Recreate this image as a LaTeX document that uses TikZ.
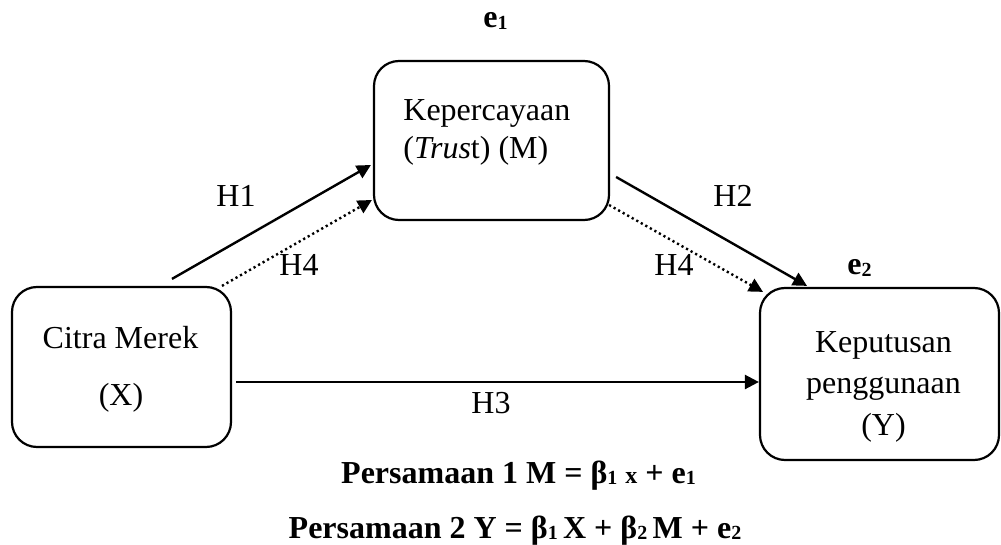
\documentclass[tikz,border=0pt]{standalone}
\usepackage{fontspec}
\setmainfont{Liberation Serif}
\usetikzlibrary{arrows.meta,calc}
\newcommand\sbs[1]{\raisebox{-0.6pt}{\fontsize{10}{10}\selectfont #1}}
\begin{document}
\begin{tikzpicture}[x=0.5pt,y=-0.5pt,
  box/.style={draw, line width=1.1pt, rounded corners=12.5pt, inner sep=0pt},
  lbl/.style={inner sep=0pt, font=\fontsize{16}{19}\selectfont},
  eq/.style={inner sep=0pt, font=\fontsize{16}{19}\selectfont\bfseries},
  arr/.style={line width=1.2pt, -{Triangle[length=7pt,width=7pt]}},
  dotarr/.style={arr, dash pattern=on 1.1pt off 1.5pt}]
\useasboundingbox (0,0) rectangle (1001,545);
% boxes
\node[box, minimum width=109.5pt, minimum height=80pt] (X) at (121.5,367) {};
\node[box, minimum width=117.5pt, minimum height=79.5pt] (M) at (491.5,140.5) {};
\node[box, minimum width=119.5pt, minimum height=86pt] (Y) at (879.5,374) {};
% box texts
\node[lbl, anchor=base] (x1) at (120.5,348) {Citra Merek};
\node[lbl, anchor=base] (x2) at (121,405) {(X)};
\node[lbl, anchor=base west] (m1) at (403,121) {Kepercayaan};
\node[lbl, anchor=base west] (m2) at (403,159) {(\textit{Trus}t) (M)};
\node[lbl, anchor=base] (y1) at (883.5,352) {Keputusan};
\node[lbl, anchor=base] (y2) at (883.5,393) {penggunaan};
\node[lbl, anchor=base] (y3) at (883.5,435) {(Y)};
% error labels
\node[eq, anchor=base] (e1) at (495.5,28) {e\sbs{1}};
\node[eq, anchor=base] (e2) at (859.5,275) {e\sbs{2}};
% connectors
\draw[arr] ($(X.north)+(50.5,-7)$) -- ($(M.west)+(-2,24.5)$);
\draw[dotarr] ($(X.north)+(100.5,0)$) -- ($(M.west)+(-1,59.5)$);
\draw[arr] ($(M.east)+(6,36.5)$) -- ($(Y.north)+(-72.5,-1)$);
\draw[dotarr] ($(M.east)+(-1,64.5)$) -- ($(Y.north)+(-116.5,5)$);
\draw[arr] ($(X.east)+(4,15)$) -- ($(Y.west)+(0,8)$);
% hypothesis labels
\node[lbl, anchor=base] (h1) at (236,207) {H1};
\node[lbl, anchor=base] (h4a) at (299,276) {H4};
\node[lbl, anchor=base] (h2) at (733,207) {H2};
\node[lbl, anchor=base] (h4b) at (674,276) {H4};
\node[lbl, anchor=base] (h3) at (491,413) {H3};
% equations
\node[eq, anchor=base] (eqa) at (518.5,483) {Persamaan 1 M = β\sbs{1} {\fontsize{12}{12}\selectfont x} + e\sbs{1}};
\node[eq, anchor=base] (eqb) at (515,538) {Persamaan 2 Y = β\sbs{1}\,X + β\sbs{2}\,M + e\sbs{2}};
\end{tikzpicture}
\end{document}
